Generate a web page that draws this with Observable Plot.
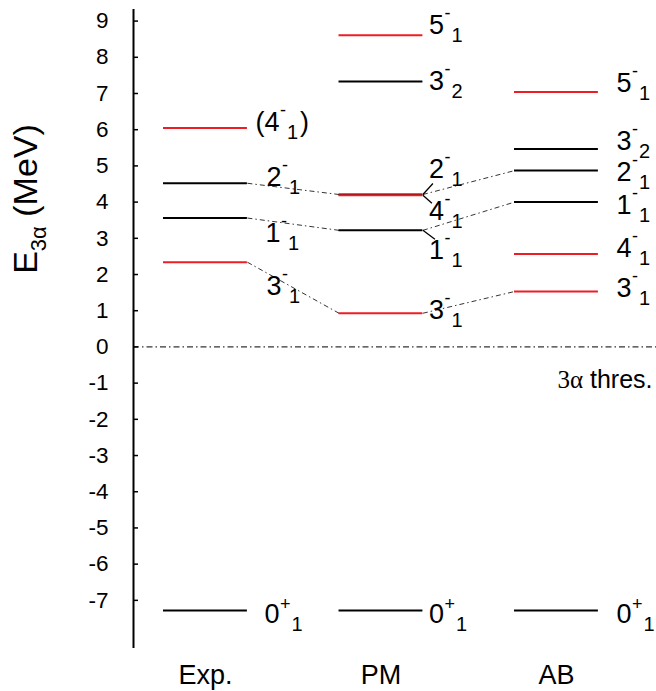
<!DOCTYPE html>
<html><head><meta charset="utf-8">
<script src="https://cdn.jsdelivr.net/npm/d3@7"></script>
<script src="https://cdn.jsdelivr.net/npm/@observablehq/plot@0.6"></script>
<style>body{margin:0;background:#fff;}</style>
</head><body><div id="chart"></div>
<script>
// ---- data ----
const columns = ["Exp.", "PM", "AB"];
const levelColumn = ["Exp.","Exp.","Exp.","Exp.","Exp.", "PM","PM","PM","PM","PM","PM","PM", "AB","AB","AB","AB","AB","AB","AB"];
const levelJ      = ["0","3","1","2","4", "0","3","1","2","4","3","5", "0","3","4","1","2","3","5"];
const levelParity = ["+","-","-","-","-", "+","-","-","-","-","-","-", "+","-","-","-","-","-","-"];
const levelIndex  = ["1","1","1","1","1", "1","1","1","1","1","2","1", "1","1","1","1","1","2","1"];
const levelEnergy = [-7.28,2.34,3.56,4.52,6.05, -7.28,0.93,3.22,4.21,4.19,7.33,8.61, -7.28,1.53,2.57,4.00,4.87,5.47,7.04];
const levelTentative = [false,false,false,false,true, false,false,false,false,false,false,false, false,false,false,false,false,false,false];
const bandStates = ["3-1","4-1","5-1"];       // drawn in red
const linkedStates = ["2-1","1-1","3-1"];     // joined by dash-dot lines
const yTicks = [-7,-6,-5,-4,-3,-2,-1,0,1,2,3,4,5,6,7,8,9];
const thresholdEnergy = 0;
const thresholdLabel = "3α thres.";
const yLabel = "E_3α (MeV)";

// ---- layout ----
const W = 656, H = 691, mL = 133, mR = 0, mT = 9, mB = 43;
const xDomain = [-0.41, 2.57];
const yDomain = [-8.33, 9.32];
const pxX = (W - mL - mR) / (xDomain[1] - xDomain[0]);
const pxY = (H - mT - mB) / (yDomain[1] - yDomain[0]);
const hw = 0.239;

const levels = levelEnergy.map((E, i) => {
  const state = levelJ[i] + levelParity[i] + levelIndex[i];
  return {
    col: levelColumn[i], ci: columns.indexOf(levelColumn[i]), E, state,
    band: bandStates.includes(state) ? "band" : "other",
    label: (levelTentative[i] ? "(" : "") + levelJ[i] + "^" + levelParity[i] + "_" + levelIndex[i] + (levelTentative[i] ? ")" : "")
  };
});

const links = [];
for (let c = 0; c < columns.length - 1; c++) {
  for (const s of linkedStates) {
    const a = levels.find(d => d.ci === c && d.state === s);
    const b = levels.find(d => d.ci === c + 1 && d.state === s);
    if (a && b) links.push({x1: c + hw, y1: a.E, x2: c + 1 - hw, y2: b.E});
  }
}

// label offsets in px: [dx from level end, baseline dy from level]
const labelLayout = {
  "Exp.|0+1": [17, 13], "Exp.|3-1": [19, 33], "Exp.|1-1": [18, 24], "Exp.|2-1": [19, 2.5], "Exp.|4-1": [8, 3],
  "PM|0+1": [6, 13], "PM|3-1": [6, 6], "PM|1-1": [6, 29], "PM|2-1": [6, -17], "PM|4-1": [6, 25], "PM|3-2": [6, 8.5], "PM|5-1": [6, -1],
  "AB|0+1": [18, 13], "AB|3-1": [18, 5.5], "AB|4-1": [18, 3], "AB|1-1": [18, 12], "AB|2-1": [18, 10], "AB|3-2": [18, 1], "AB|5-1": [18, 0]
};
const labelTicks = {"PM|2-1": [10, -11], "PM|4-1": [9, 8], "PM|1-1": [12, 9]};
const tickLevels = levels.filter(d => labelTicks[d.col + "|" + d.state]);

const off = d => labelLayout[d.col + "|" + d.state] || [15, 8];

const chart = Plot.plot({
  width: W, height: H, marginLeft: mL, marginRight: mR, marginTop: mT, marginBottom: mB,
  x: {domain: xDomain},
  y: {domain: yDomain},
  color: {domain: ["band", "other"], range: ["#ee1d23", "#000000"]},
  style: {fontFamily: "'Liberation Sans', Arial, Helvetica, sans-serif", background: "#fff", color: "#000", overflow: "visible"},
  marks: [
    Plot.ruleY([thresholdEnergy], {strokeDasharray: "6,3,1.5,3", strokeWidth: 1}),
    Plot.link(links, {x1: "x1", y1: "y1", x2: "x2", y2: "y2", strokeDasharray: "5,3,1.5,3", strokeWidth: 0.8}),
    Plot.link(tickLevels, {
      x1: d => d.ci + hw, y1: d => d.E,
      x2: d => d.ci + hw + labelTicks[d.col + "|" + d.state][0] / pxX,
      y2: d => d.E - labelTicks[d.col + "|" + d.state][1] / pxY,
      strokeWidth: 1.3
    }),
    Plot.ruleY(levels, {y: "E", x1: d => d.ci - hw, x2: d => d.ci + hw, stroke: "band", strokeWidth: 2}),
    Plot.ruleX([xDomain[0]], {strokeWidth: 2}),
    Plot.axisY({ticks: yTicks, tickFormat: d => String(d), tickSize: 5, dx: 5, tickPadding: 25, fontSize: 22.5, label: null, strokeWidth: 1.5}),
    Plot.axisX({ticks: [0, 1, 2], tickFormat: i => columns[i], tickSize: 0, tickPadding: 16, fontSize: 27, label: null}),
    Plot.text(levels, {
      x: d => d.ci + hw + off(d)[0] / pxX,
      y: d => d.E - off(d)[1] / pxY,
      text: "label", textAnchor: "start", lineAnchor: "bottom", fontSize: 27, fill: "#000"
    }),
    Plot.text([yLabel], {text: d => d, frameAnchor: "left", textAnchor: "middle", dx: -107, dy: -130, rotate: -90, fontSize: 34, fill: "#000"}),
    Plot.text([thresholdEnergy], {y: d => d, frameAnchor: "right", text: () => thresholdLabel, textAnchor: "end", lineAnchor: "bottom", dx: -4, dy: 41, fontSize: 25, fill: "#000"})
  ]
});

// ---- rich text (superscripts / subscripts) ----
const NS = "http://www.w3.org/2000/svg";
function ts(parent, txt, attrs) {
  const t = document.createElementNS(NS, "tspan");
  for (const k in attrs) t.setAttribute(k, attrs[k]);
  t.textContent = txt;
  parent.appendChild(t);
  return t;
}
chart.querySelectorAll("text").forEach(t => {
  const s = t.textContent;
  let m = s.match(/^(.*)\^(.)_(.)(.*)$/);
  if (m) {
    const [, main, sup, sub, tail] = m;
    const up = sup === "+" ? 13 : 15;
    t.textContent = "";
    ts(t, main, {});
    ts(t, sup, {"font-size": 18, dy: -up, dx: 0.5});
    ts(t, sub, {"font-size": 20, dy: up + 8, dx: 1});
    if (tail) ts(t, tail, {"font-size": 27, dy: -8, dx: 2});
  } else if (s === yLabel) {
    const [a, rest] = s.split("_");
    const subTxt = rest.slice(0, 2), tail = rest.slice(2);
    t.textContent = "";
    ts(t, a, {});
    ts(t, subTxt, {"font-size": 22, dy: 9});
    ts(t, tail, {dy: -9});
  } else if (s === thresholdLabel) {
    t.textContent = "";
    ts(t, "3α", {"font-family": "'Liberation Serif', 'Times New Roman', serif"});
    ts(t, " thres.", {});
  }
});
document.getElementById("chart").appendChild(chart);
</script>
</body></html>
